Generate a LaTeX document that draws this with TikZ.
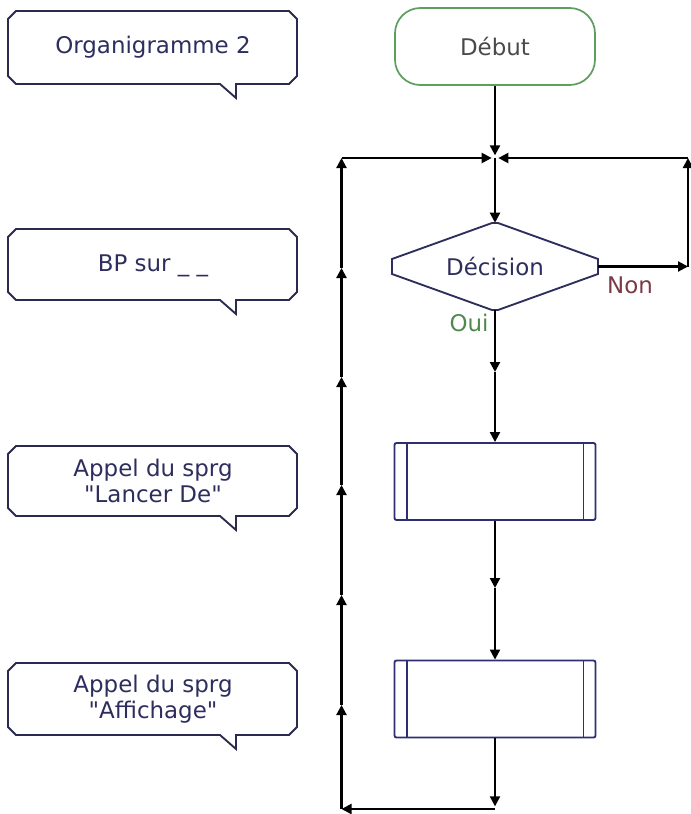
\documentclass[tikz,border=0pt]{standalone}
\usepackage{fontspec}
\setmainfont{DejaVu Sans}
\usetikzlibrary{arrows.meta}
\definecolor{navy}{HTML}{2E2E5E}
\definecolor{bubblec}{HTML}{2A2A4E}
\definecolor{procc}{HTML}{2E2E72}
\definecolor{startg}{HTML}{5E9E5E}
\definecolor{nonc}{HTML}{7A3A4A}
\definecolor{ouic}{HTML}{4E8A4E}
\definecolor{startt}{HTML}{4A4A4A}
\newcommand\mybubble[2]{%
  \draw[bubble] (16,#1) -- (289,#1) -- (297,#1+8) -- (297,#2-8) -- (289,#2)
    -- (236,#2) -- (236,#2+14) -- (220,#2) -- (16,#2) -- (8,#2-8) -- (8,#1+8) -- cycle;}
\begin{document}
\begin{tikzpicture}[x=0.75pt,y=-0.75pt,
  conn/.style={line width=1.6pt, draw=black},
  arr/.style={conn, -{Triangle[length=7.5pt,width=7.5pt]}},
  bubble/.style={draw=bubblec, line width=1.4pt, fill=white},
  txt/.style={font=\fontsize{17.2}{19}\selectfont, align=center, inner sep=0pt},
  ctext/.style={txt, text=navy},
  startbox/.style={txt, draw=startg, line width=1.3pt, rounded corners=19pt,
    minimum width=150pt, minimum height=57.75pt, text=startt},
  procbox/.style={draw=procc, line width=1.4pt, rounded corners=1.5pt,
    minimum width=150.75pt, minimum height=57.75pt},
  procline/.style={draw=procc, line width=1.4pt},
  decshape/.style={draw=navy, line width=1.4pt},
]
\useasboundingbox (0,0) rectangle (691,814);

% callouts
\mybubble{11}{84}
\node[ctext] (c1) at (153,47.5) {Organigramme 2};
\mybubble{229}{300}
\node[ctext] (c2) at (153,266) {BP sur \_ \_};
\mybubble{446}{516}
\node[ctext] (c3) at (153,481) {Appel du sprg\\\textquotedbl Lancer De\textquotedbl};
\mybubble{663}{735}
\node[ctext] (c4) at (153,699) {Appel du sprg\\\textquotedbl Affichage\textquotedbl};

% flowchart nodes
\node[startbox] (start) at (495,46.5) {Début};
\node[ctext, minimum width=153.75pt, minimum height=65.25pt] (dec) at (495,266.5) {Décision};
\draw[decshape] (392,259) -- (492,223) -- (498,223) -- (598,259) -- (598,274)
  -- (498,310) -- (492,310) -- (392,274) -- cycle;
\node[procbox] (p1) at (495,481.5) {};
\draw[procline] ([xshift=9.75pt]p1.north west) -- ([xshift=9.75pt]p1.south west);
\draw[procline] ([xshift=-9.75pt]p1.north east) -- ([xshift=-9.75pt]p1.south east);
\node[procbox] (p2) at (495,699) {};
\draw[procline] ([xshift=9.75pt]p2.north west) -- ([xshift=9.75pt]p2.south west);
\draw[procline] ([xshift=-9.75pt]p2.north east) -- ([xshift=-9.75pt]p2.south east);

\node[txt, text=nonc] (non) at (630,285) {Non};
\node[txt, text=ouic] (oui) at (469,323) {Oui};

% coordinates
\coordinate (j) at (495,158);
\coordinate (tl) at (341.5,158);
\coordinate (bl) at (341.5,809);
\coordinate (bm) at (495,809);
\coordinate (rr) at (688,266.5);
\coordinate (rt) at (688,158);
\coordinate (m1) at (495,372);
\coordinate (m2) at (495,588);
\coordinate (l1) at (341.5,705);
\coordinate (l2) at (341.5,595);
\coordinate (l3) at (341.5,485);
\coordinate (l4) at (341.5,377);
\coordinate (l5) at (341.5,268);

% connectors
\draw[arr, shorten >=2pt] (start.south) -- (j);
\draw[arr] (j) -- (dec.north);
\draw[arr] (dec.south) -- (m1);
\draw[arr] (m1) -- (p1.north);
\draw[arr] (p1.south) -- (m2);
\draw[arr] (m2) -- (p2.north);
\draw[arr, shorten >=2pt] (p2.south) -- (bm);
\draw[arr] (bm) -- (bl);
\draw[arr] (bl) -- (l1);
\draw[arr] (l1) -- (l2);
\draw[arr] (l2) -- (l3);
\draw[arr] (l3) -- (l4);
\draw[arr] (l4) -- (l5);
\draw[arr] (l5) -- (tl);
\draw[arr, shorten >=2.5pt] (tl) -- (j);
\draw[arr] (dec.east) -- (rr);
\draw[arr] (rr) -- (rt);
\draw[arr, shorten >=2.5pt] (rt) -- (j);
\end{tikzpicture}
\end{document}
